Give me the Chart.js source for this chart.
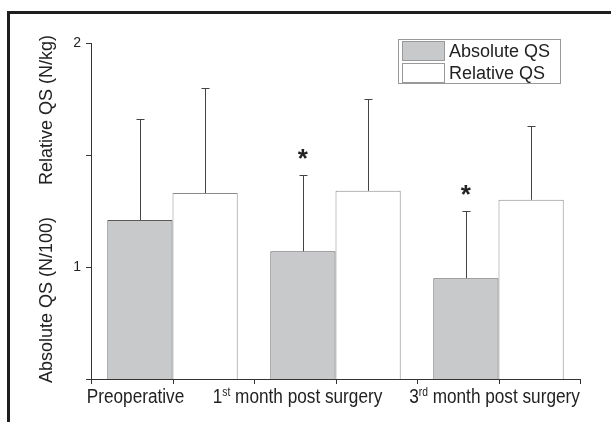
<!DOCTYPE html>
<html>
<head>
<meta charset="utf-8">
<script src="https://cdn.jsdelivr.net/npm/chart.js@4/dist/chart.umd.min.js"></script>
<style>
html, body { margin: 0; padding: 0; background: #fff; overflow: hidden; width: 611px; height: 422px; }
#frame { position: absolute; left: 7px; top: 11px; width: 1000px; height: 1000px; border: 3px solid #1e1e1e; }
#wrap { position: absolute; left: 0; top: 0; width: 611px; height: 422px; }
</style>
</head>
<body>
<div id="frame"></div>
<div id="wrap"><canvas id="c" width="611" height="422"></canvas></div>
<script>
// data
const labelMain = ['Preoperative', '1', '3'];
const labelSup = ['', 'st', 'rd'];
const labelRest = ['', ' month post surgery', ' month post surgery'];
const categories = labelMain.map((m, i) => m + labelSup[i] + labelRest[i]);
const absoluteQS = [1.21, 1.07, 0.95];
const absoluteErrTop = [1.66, 1.41, 1.25];
const relativeQS = [1.33, 1.34, 1.30];
const relativeErrTop = [1.80, 1.75, 1.63];
const significant = [false, true, true];
const yTicks = [0.5, 1, 1.5, 2];
const yTickLabels = ['', '1', '', '2'];
const seriesNames = ['Absolute QS', 'Relative QS'];
const yTitles = ['Absolute QS (N/100)', 'Relative QS (N/kg)'];

const SANS = '"Liberation Sans", Arial, sans-serif';

/**
 * Draws error bars, stars, x labels, axis titles and the legend box.
 */
const decorations = {
    id: 'decorations',
    afterDatasetsDraw(chart, args, opts) {
        const ctx = chart.ctx;
        const x = chart.scales.x;
        const y = chart.scales.y;
        const area = chart.chartArea;
        const errTops = [absoluteErrTop, relativeErrTop];

        ctx.save();
        // error bars (upper only)
        ctx.strokeStyle = '#444';
        ctx.lineWidth = 1;
        for (let d = 0; d < 2; d++) {
            const meta = chart.getDatasetMeta(d);
            meta.data.forEach((bar, i) => {
                const top = Math.round(y.getPixelForValue(errTops[d][i])) + 0.5;
                const bx = Math.round(bar.x) + 0.5;
                ctx.beginPath();
                ctx.moveTo(bx, bar.y);
                ctx.lineTo(bx, top);
                ctx.moveTo(bx - 4, top);
                ctx.lineTo(bx + 4, top);
                ctx.stroke();
            });
        }

        // significance stars
        ctx.fillStyle = '#222';
        ctx.font = 'bold 26px ' + SANS;
        ctx.textAlign = 'center';
        ctx.textBaseline = 'alphabetic';
        const absMeta = chart.getDatasetMeta(0);
        significant.forEach((s, i) => {
            if (!s) {
                return;
            }
            const top = y.getPixelForValue(absoluteErrTop[i]);
            ctx.fillText('*', absMeta.data[i].x, top - 8);
        });

        // x axis tick marks at boundaries and centres
        ctx.strokeStyle = '#333';
        ctx.beginPath();
        for (let i = 0; i < categories.length; i++) {
            const c = x.getPixelForValue(i);
            const half = x.width / categories.length / 2;
            [c - half, c, c + half].forEach((px) => {
                const p = Math.round(px) + 0.5;
                ctx.moveTo(p, area.bottom);
                ctx.lineTo(p, area.bottom + 5);
            });
        }
        ctx.stroke();

        // x labels with superscripts, condensed horizontally
        ctx.fillStyle = '#222';
        ctx.textAlign = 'left';
        ctx.textBaseline = 'alphabetic';
        const base = area.bottom + 24;
        const k = opts.condense;
        for (let i = 0; i < categories.length; i++) {
            ctx.font = '20px ' + SANS;
            const w1 = ctx.measureText(labelMain[i]).width;
            const w3 = ctx.measureText(labelRest[i]).width;
            ctx.font = '12px ' + SANS;
            const w2 = ctx.measureText(labelSup[i]).width;
            const start = x.getPixelForValue(i) + opts.labelShift[i] - k * (w1 + w2 + w3) / 2;
            ctx.save();
            ctx.translate(start, base);
            ctx.scale(k, 1);
            ctx.font = '20px ' + SANS;
            ctx.fillText(labelMain[i], 0, 0);
            ctx.font = '12px ' + SANS;
            ctx.fillText(labelSup[i], w1, -7);
            ctx.font = '20px ' + SANS;
            ctx.fillText(labelRest[i], w1 + w2, 0);
            ctx.restore();
        }

        // two-part y axis title
        ctx.font = '18px ' + SANS;
        ctx.textAlign = 'center';
        ctx.textBaseline = 'middle';
        yTitles.forEach((t, i) => {
            ctx.save();
            ctx.translate(opts.titleX, opts.titleY[i]);
            ctx.rotate(-Math.PI / 2);
            ctx.fillText(t, 0, 0);
            ctx.restore();
        });

        // legend box
        const lg = opts.legend;
        ctx.fillStyle = '#fff';
        ctx.fillRect(lg.x, lg.y, lg.w, lg.h);
        ctx.strokeStyle = '#999';
        ctx.strokeRect(lg.x + 0.5, lg.y + 0.5, lg.w, lg.h);
        const fills = ['#c8c9cb', '#ffffff'];
        seriesNames.forEach((name, i) => {
            const ry = lg.y + 2 + i * 22;
            ctx.fillStyle = fills[i];
            ctx.fillRect(lg.x + 4, ry, 42, 20);
            ctx.strokeStyle = '#999';
            ctx.strokeRect(lg.x + 4.5, ry + 0.5, 42, 19);
            ctx.fillStyle = '#222';
            ctx.font = '18px ' + SANS;
            ctx.textAlign = 'left';
            ctx.textBaseline = 'middle';
            ctx.fillText(name, lg.x + 51, ry + 11);
        });
        ctx.restore();
    }
};

new Chart(document.getElementById('c'), {
    type: 'bar',
    data: {
        labels: categories,
        datasets: [
            {
                label: seriesNames[0],
                data: absoluteQS,
                backgroundColor: '#c8c9cb',
                borderColor: '#5a5a5a',
                borderWidth: 1,
                borderSkipped: 'bottom',
            },
            {
                label: seriesNames[1],
                data: relativeQS,
                backgroundColor: '#ffffff',
                borderColor: '#8a8a8a',
                borderWidth: 1,
                borderSkipped: 'bottom',
            },
        ],
    },
    options: {
        responsive: false,
        animation: false,
        devicePixelRatio: 1,
        layout: { padding: { top: 43, right: 31, left: 0, bottom: 0 } },
        datasets: { bar: { categoryPercentage: 0.8, barPercentage: 1.0 } },
        plugins: {
            legend: { display: false },
            tooltip: { enabled: false },
            decorations: {
                labelShift: [-37, -38, -4],
                condense: 0.86,
                titleX: 47,
                titleY: [300, 110],
                legend: { x: 398, y: 39, w: 162, h: 44 },
            },
        },
        scales: {
            x: {
                grid: { display: false },
                border: { display: true, color: '#333', width: 1 },
                ticks: { display: false },
                afterFit(scale) { scale.height = 43; },
            },
            y: {
                min: 0.5,
                max: 2,
                afterBuildTicks(scale) { scale.ticks = yTicks.map((v) => ({ value: v })); },
                ticks: {
                    padding: 5,
                    color: '#222',
                    font: { family: SANS, size: 14 },
                    callback: (v, i) => yTickLabels[i],
                },
                grid: { drawOnChartArea: false, tickLength: 5, color: '#333' },
                border: { display: true, color: '#333', width: 1 },
                afterFit(scale) { scale.width = 91; },
            },
        },
    },
    plugins: [decorations],
});
</script>
</body>
</html>
